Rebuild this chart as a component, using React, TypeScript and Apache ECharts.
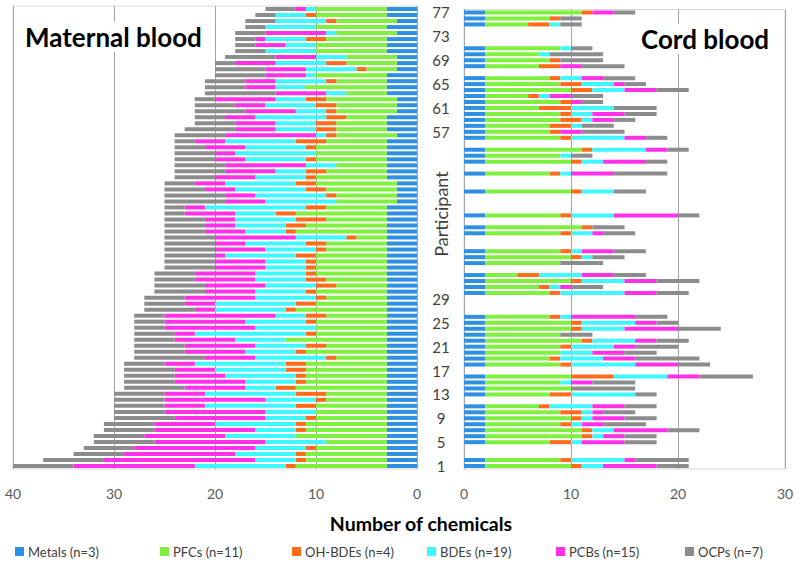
import React, { useEffect, useRef } from 'react';
import * as echarts from 'echarts';

const participants: string[] = Array.from({ length: 77 }, (_, i) => String(i + 1));
const visibleParticipantLabels = ['1', '5', '9', '13', '17', '21', '25', '29', '57', '61', '65', '69', '73', '77'];

const seriesNames = ['Metals (n=3)', 'PFCs (n=11)', 'OH-BDEs (n=4)', 'BDEs (n=19)', 'PCBs (n=15)', 'OCPs (n=7)'];
const seriesColors = ['#2E90E0', '#7FF03F', '#FF6B1A', '#3FF8FF', '#FF30E8', '#8C8C8C'];

// Maternal blood, participants 1..77
const maternalMetals = [
  3, 3, 3, 3, 3, 3, 3, 3, 3, 3,
  3, 3, 3, 3, 3, 3, 3, 3, 3, 3,
  3, 3, 3, 3, 3, 3, 3, 3, 3, 3,
  3, 3, 3, 3, 3, 3, 3, 3, 3, 3,
  3, 3, 3, 3, 2, 2, 2, 2, 3, 3,
  3, 3, 3, 3, 3, 2, 3, 3, 3, 2,
  2, 2, 3, 3, 3, 3, 2, 2, 2, 3,
  3, 3, 2, 3, 2, 3, 3,
];
const maternalPFCs = [
  9, 8, 8, 7, 6, 9, 8, 8, 7, 7,
  7, 6, 6, 9, 8, 8, 8, 8, 5, 8,
  6, 10, 7, 7, 7, 6, 9, 7, 6, 7,
  5, 6, 7, 7, 7, 7, 6, 6, 3, 9,
  8, 6, 9, 6, 6, 6, 7, 8, 7, 6,
  5, 7, 7, 7, 6, 6, 5, 5, 4, 6,
  6, 7, 4, 8, 5, 7, 3, 5, 5, 7,
  7, 6, 6, 7, 6, 7, 7,
];
const maternalOHBDEs = [
  1, 1, 1, 1, 0, 0, 1, 1, 1, 0,
  2, 1, 3, 2, 1, 1, 2, 2, 1, 1,
  2, 0, 1, 0, 1, 2, 1, 2, 1, 1,
  2, 2, 1, 1, 1, 2, 1, 2, 1, 1,
  2, 3, 2, 2, 0, 1, 2, 2, 1, 2,
  0, 1, 0, 1, 3, 1, 2, 2, 2, 1,
  2, 2, 0, 0, 1, 0, 1, 2, 0, 0,
  0, 2, 0, 0, 1, 1, 0,
];
const maternalBDEs = [
  9, 4, 6, 5, 6, 7, 4, 8, 4, 5,
  9, 5, 9, 3, 5, 7, 7, 9, 7, 5,
  5, 5, 11, 6, 6, 3, 7, 8, 6, 5,
  5, 5, 5, 4, 4, 7, 5, 6, 5, 4,
  5, 6, 4, 10, 7, 7, 7, 7, 5, 3,
  3, 6, 8, 6, 7, 1, 4, 4, 7, 3,
  5, 3, 2, 3, 5, 1, 5, 5, 3, 5,
  3, 4, 1, 5, 5, 3, 1,
];
const maternalPCBs = [
  12, 15, 11, 12, 11, 8, 10, 6, 9, 10,
  4, 10, 4, 6, 7, 5, 4, 3, 5, 6,
  7, 6, 2, 9, 8, 11, 2, 3, 7, 5,
  6, 6, 6, 5, 5, 1, 5, 3, 8, 4,
  3, 3, 5, 2, 4, 3, 3, 3, 4, 5,
  8, 3, 2, 4, 3, 9, 4, 4, 3, 5,
  3, 6, 5, 3, 3, 4, 4, 4, 4, 0,
  3, 1, 6, 0, 0, 0, 1,
];
const maternalOCPs = [
  6, 6, 5, 5, 6, 5, 5, 5, 6, 5,
  5, 5, 5, 6, 5, 5, 5, 4, 7, 5,
  5, 4, 4, 3, 3, 3, 5, 4, 4, 5,
  5, 4, 4, 5, 5, 5, 5, 5, 5, 4,
  4, 4, 2, 2, 6, 6, 4, 3, 4, 5,
  5, 4, 4, 3, 2, 5, 5, 4, 3, 5,
  4, 2, 7, 4, 4, 5, 5, 2, 5, 3,
  2, 2, 3, 2, 3, 2, 3,
];

// Cord blood, participants 1..77 (null = no cord sample)
const cordMetals = [
  2, 2, null, null, 2, 2, 2, 2, 2, 2,
  2, null, 2, 2, 2, 2, null, 2, 2, 2,
  2, 2, 2, 2, 2, 2, null, null, null, 2,
  2, 2, 2, null, 2, 2, 2, null, null, 2,
  2, null, 2, null, null, null, 2, null, null, 2,
  null, 2, 2, 2, null, 2, 2, 2, 2, 2,
  2, 2, 2, 2, 2, 2, null, 2, 2, 2,
  2, null, null, null, 2, 2, 2,
];
const cordPFCs = [
  8, 7, null, null, 6, 9, 9, 7, 8, 7,
  5, null, 6, 8, 7, 8, null, 7, 6, 7,
  7, 9, 7, 8, 8, 6, null, null, null, 6,
  5, 8, 3, null, 7, 8, 7, null, null, 7,
  9, null, 7, null, null, null, 8, null, null, 6,
  null, 8, 7, 9, null, 7, 6, 6, 7, 7,
  5, 7, 4, 8, 7, 6, null, 5, 6, 5,
  7, null, null, null, 4, 6, 9,
];
const cordOHBDEs = [
  1, 1, null, null, 2, 1, 1, 1, 1, 2,
  1, null, 2, 0, 0, 4, null, 1, 1, 0,
  1, 1, 0, 1, 1, 1, null, null, null, 1,
  1, 1, 2, null, 0, 1, 1, null, null, 1,
  1, null, 1, null, null, null, 1, null, null, 1,
  null, 1, 0, 1, null, 1, 1, 2, 2, 1,
  3, 1, 1, 2, 2, 1, null, 2, 1, 0,
  0, null, null, null, 2, 1, 1,
];
const cordBDEs = [
  2, 5, null, null, 1, 1, 2, 1, 1, 1,
  4, null, 6, 0, 1, 5, null, 6, 4, 3,
  4, 4, 0, 4, 5, 1, null, null, null, 6,
  1, 4, 4, null, 0, 1, 1, null, null, 2,
  0, null, 4, null, null, null, 3, null, null, 1,
  null, 2, 1, 5, null, 5, 0, 1, 1, 2,
  4, 0, 1, 3, 3, 2, null, 0, 0, 1,
  1, null, null, null, 1, 0, 0,
];
const cordPCBs = [
  5, 1, null, null, 4, 2, 5, 2, 3, 1,
  3, null, 0, 0, 2, 3, null, 4, 3, 3,
  2, 2, 0, 5, 2, 6, null, null, null, 3,
  1, 3, 3, null, 0, 0, 3, null, null, 1,
  0, null, 6, null, null, null, 0, null, null, 4,
  null, 4, 0, 2, null, 2, 2, 0, 2, 3,
  0, 1, 2, 3, 1, 2, null, 2, 0, 0,
  0, null, null, null, 0, 0, 2,
];
const cordOCPs = [
  3, 5, null, null, 3, 3, 3, 4, 3, 3,
  3, null, 2, 6, 4, 5, null, 3, 6, 3,
  4, 3, 3, 4, 2, 3, null, null, null, 3,
  3, 4, 3, null, 4, 3, 3, null, null, 3,
  3, null, 2, null, null, null, 3, null, null, 5,
  null, 2, 2, 2, null, 2, 4, 3, 2, 3,
  4, 2, 3, 3, 2, 3, null, 4, 4, 5,
  2, null, null, null, 2, 2, 2,
];

const maternalSeries = [maternalMetals, maternalPFCs, maternalOHBDEs, maternalBDEs, maternalPCBs, maternalOCPs];
const cordSeries = [cordMetals, cordPFCs, cordOHBDEs, cordBDEs, cordPCBs, cordOCPs];

const FONT = 'Lato, "Open Sans", "Noto Sans", sans-serif';
const legendLeft = [15, 160, 292, 427, 556, 685];

export default function App() {
  const ref = useRef<HTMLDivElement>(null);

  useEffect(() => {
    if (!ref.current) return;
    const chart = echarts.init(ref.current, undefined, { renderer: 'svg' });

    const series: any[] = [];
    seriesNames.forEach((name, i) => {
      series.push({
        type: 'bar',
        name,
        xAxisIndex: 0,
        yAxisIndex: 0,
        stack: 'maternal',
        barWidth: 4,
        data: maternalSeries[i],
        itemStyle: { color: seriesColors[i] },
      });
    });
    seriesNames.forEach((name, i) => {
      series.push({
        type: 'bar',
        name,
        xAxisIndex: 1,
        yAxisIndex: 1,
        stack: 'cord',
        barWidth: 4,
        data: cordSeries[i],
        itemStyle: { color: seriesColors[i] },
      });
    });

    const axisLabelStyle = { fontSize: 14, color: '#595959', fontFamily: FONT, margin: 17 };

    chart.setOption({
      animation: false,
      backgroundColor: '#ffffff',
      textStyle: { fontFamily: FONT },
      grid: [
        { left: 13, top: 6, width: 404, height: 463, show: true, borderColor: '#d9d9d9', borderWidth: 1 },
        { left: 464, top: 9.5, width: 321, height: 459.5, show: true, borderColor: '#d9d9d9', borderWidth: 1 },
      ],
      xAxis: [
        {
          gridIndex: 0,
          type: 'value',
          min: 0,
          max: 40,
          interval: 10,
          inverse: true,
          axisLine: { show: false },
          axisTick: { show: false },
          splitLine: { show: true, lineStyle: { color: '#a6a6a6', width: 1 } },
          axisLabel: axisLabelStyle,
        },
        {
          gridIndex: 1,
          type: 'value',
          min: 0,
          max: 30,
          interval: 10,
          axisLine: { show: false },
          axisTick: { show: false },
          splitLine: { show: true, lineStyle: { color: '#a6a6a6', width: 1 } },
          axisLabel: axisLabelStyle,
        },
      ],
      yAxis: [
        {
          gridIndex: 0,
          type: 'category',
          data: participants,
          axisLine: { show: false },
          axisTick: { show: false },
          axisLabel: { show: false },
          splitLine: { show: false },
        },
        {
          gridIndex: 1,
          type: 'category',
          data: participants,
          axisLine: { show: true, lineStyle: { color: '#a6a6a6' } },
          axisTick: { show: false },
          splitLine: { show: false },
          axisLabel: {
            interval: 3,
            margin: 23,
            align: 'center',
            fontSize: 15,
            color: '#404040',
            fontFamily: FONT,
            formatter: (v: string) => (visibleParticipantLabels.indexOf(v) >= 0 ? v : ''),
          },
        },
      ],
      legend: seriesNames.map((name, i) => ({
        data: [name],
        left: legendLeft[i],
        top: 545,
        padding: 0,
        itemWidth: 9,
        itemHeight: 9,
        itemGap: 0,
        icon: 'rect',
        selectedMode: false,
        textStyle: { fontSize: 13, color: '#404040', fontFamily: FONT, padding: [0, 0, 0, -1] },
      })),
      graphic: [
        {
          type: 'text',
          left: 22,
          top: 22,
          z: 100,
          style: {
            text: 'Maternal blood',
            font: `bold 26px ${FONT}`,
            fill: '#000000',
            backgroundColor: '#ffffff',
            padding: [2, 3, 2, 3],
          },
        },
        {
          type: 'text',
          left: 638,
          top: 24,
          z: 100,
          style: {
            text: 'Cord blood',
            font: `bold 26px ${FONT}`,
            fill: '#000000',
            backgroundColor: '#ffffff',
            padding: [2, 3, 2, 3],
          },
        },
        {
          type: 'text',
          x: 441,
          y: 214,
          rotation: Math.PI / 2,
          z: 100,
          style: {
            text: 'Participant',
            font: `18px ${FONT}`,
            fill: '#404040',
            align: 'center',
            verticalAlign: 'middle',
          },
        },
        {
          type: 'text',
          x: 421,
          y: 523,
          z: 100,
          style: {
            text: 'Number of chemicals',
            font: `bold 19.5px ${FONT}`,
            fill: '#000000',
            align: 'center',
            verticalAlign: 'middle',
          },
        },
      ],
      series,
    });

    return () => chart.dispose();
  }, []);

  return (
    <div
      ref={ref}
      style={{ position: 'fixed', left: 0, top: 0, width: 800, height: 570, background: '#fff' }}
    />
  );
}
